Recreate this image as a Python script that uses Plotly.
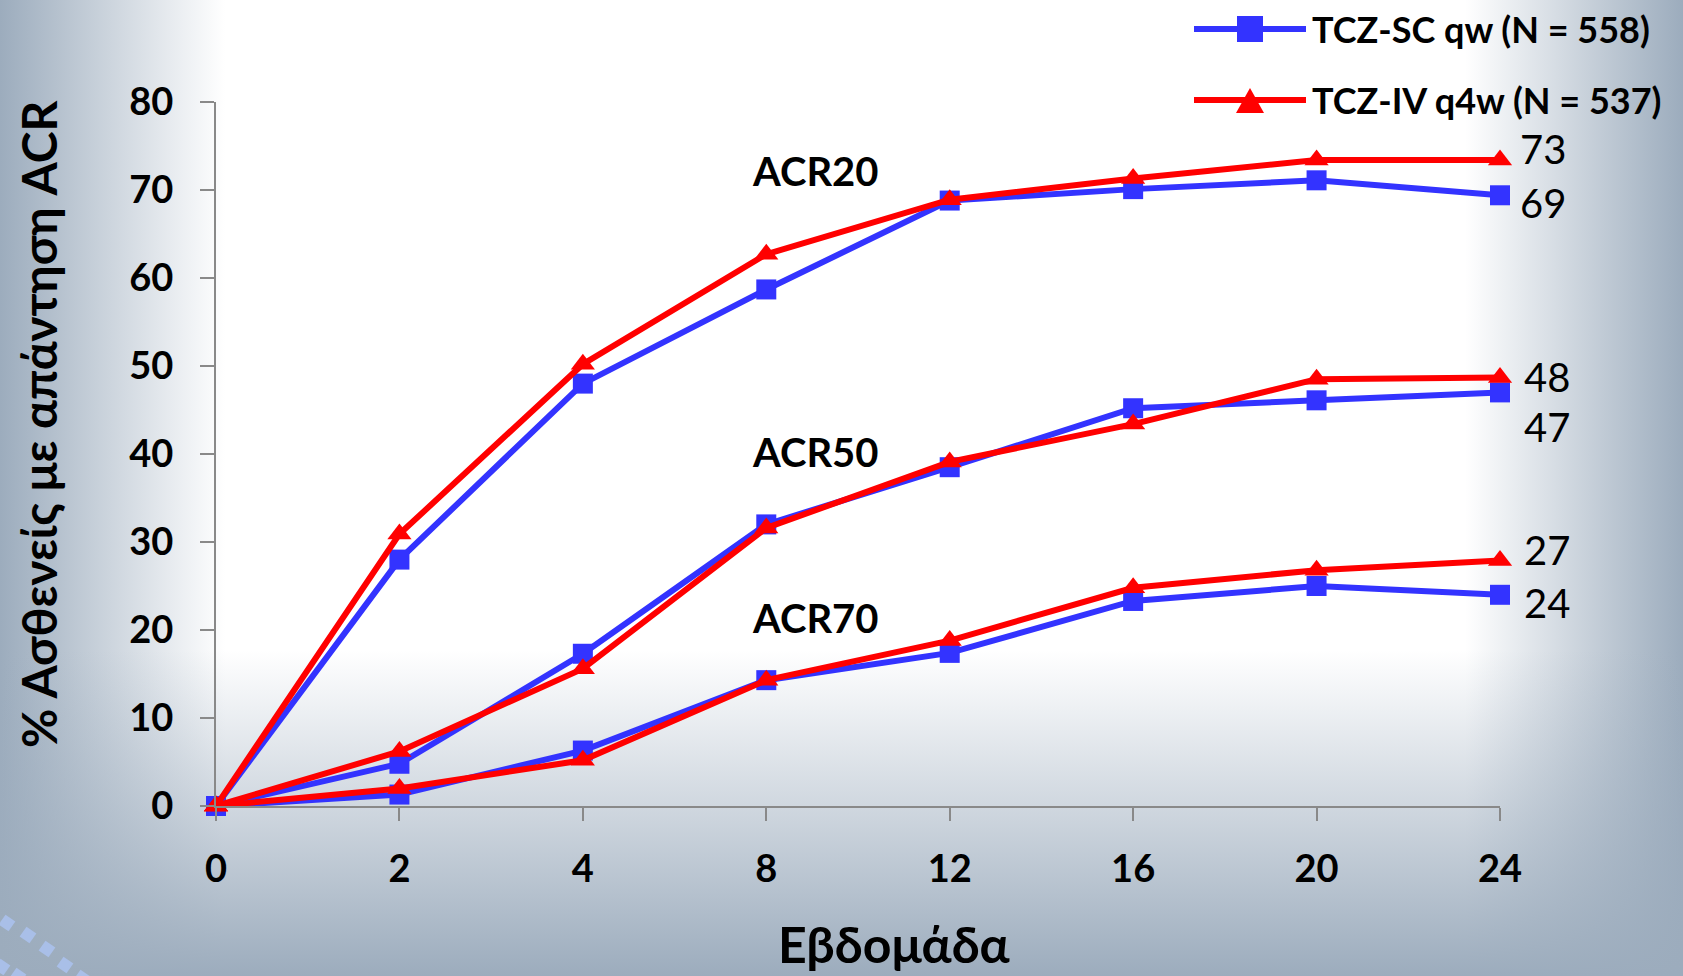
import base64
import plotly.graph_objects as go

# ---------------- data ----------------
weeks = ["0", "2", "4", "8", "12", "16", "20", "24"]
acr20_sc = [0, 28.0, 48.0, 58.7, 68.8, 70.1, 71.1, 69.4]
acr20_iv = [0, 30.9, 50.2, 62.7, 68.9, 71.3, 73.4, 73.4]
acr50_sc = [0, 4.8, 17.3, 32.0, 38.5, 45.2, 46.1, 47.0]
acr50_iv = [0, 6.2, 15.6, 31.6, 39.1, 43.4, 48.5, 48.7]
acr70_sc = [0, 1.3, 6.3, 14.3, 17.4, 23.3, 25.0, 24.0]
acr70_iv = [0, 2.0, 5.2, 14.3, 18.8, 24.8, 26.8, 27.9]
end_labels_sc = ["69", "47", "24"]
end_labels_iv = ["73", "48", "27"]
group_names = ["ACR20", "ACR50", "ACR70"]
series_names = ["TCZ-SC qw (N = 558)", "TCZ-IV q4w (N = 537)"]
y_ticks = [0, 10, 20, 30, 40, 50, 60, 70, 80]

# ---------------- geometry ----------------
W, H = 1683, 976
L, R, T, B = 216, 1500, 102, 806  # plot area in px
PW, PH = R - L, B - T

def px(x):
    return (x - L) / PW

def py(y):
    return (B - y) / PH

BLUE = "#3333ff"
RED = "#ff0000"
FONT = "Lato"

# ---------------- background (svg gradient) ----------------
edge = "#9cacbd"
diamonds = ""
for (cx, cy) in [(7, 923), (28, 935), (47, 949), (65, 965), (82, 978), (2, 967), (18, 976)]:
    diamonds += (f'<rect x="{cx-6}" y="{cy-6}" width="12" height="12" fill="#a9bfe8" '
                 f'transform="rotate(35 {cx} {cy})"/>')
svg = f'''<svg xmlns="http://www.w3.org/2000/svg" width="{W}" height="{H}" viewBox="0 0 {W} {H}" preserveAspectRatio="none">
<defs>
<linearGradient id="gl" x1="0" y1="0" x2="1" y2="0">
<stop offset="0" stop-color="{edge}" stop-opacity="1"/><stop offset="1" stop-color="{edge}" stop-opacity="0"/></linearGradient>
<linearGradient id="gr" x1="1" y1="0" x2="0" y2="0">
<stop offset="0" stop-color="{edge}" stop-opacity="1"/><stop offset="1" stop-color="{edge}" stop-opacity="0"/></linearGradient>
<linearGradient id="gb" x1="0" y1="1" x2="0" y2="0">
<stop offset="0" stop-color="{edge}" stop-opacity="1"/><stop offset="1" stop-color="{edge}" stop-opacity="0"/></linearGradient>
</defs>
<rect x="0" y="0" width="{W}" height="{H}" fill="#ffffff"/>
<rect x="0" y="0" width="225" height="{H}" fill="url(#gl)"/>
<rect x="1465" y="0" width="{W-1465}" height="{H}" fill="url(#gr)"/>
<rect x="0" y="650" width="{W}" height="{H-650}" fill="url(#gb)"/>
{diamonds}
</svg>'''
bg_uri = "data:image/svg+xml;base64," + base64.b64encode(svg.encode()).decode()

fig = go.Figure()

sc_sets = [acr20_sc, acr50_sc, acr70_sc]
iv_sets = [acr20_iv, acr50_iv, acr70_iv]

for vals in sc_sets:
    fig.add_trace(go.Scatter(
        x=weeks, y=vals, mode="lines+markers", cliponaxis=False,
        line=dict(color=BLUE, width=6),
        marker=dict(symbol="square", size=20, color=BLUE),
        showlegend=False, hoverinfo="skip"))
for vals in iv_sets:
    fig.add_trace(go.Scatter(
        x=weeks, y=vals, mode="lines+markers", cliponaxis=False,
        line=dict(color=RED, width=6),
        marker=dict(symbol="triangle-up", size=21, color=RED),
        showlegend=False, hoverinfo="skip"))

annotations = []
# group labels
for name, yv in zip(group_names, [72.2, 40.2, 21.4]):
    annotations.append(dict(x=3.27, y=yv, xref="x", yref="y", text=f"<b>{name}</b>",
                            showarrow=False, font=dict(family=FONT, size=40, color="black"),
                            xanchor="center", yanchor="middle"))
# end labels
iv_shift = [11, 0, 10]
sc_shift = [-8, -35, -8]
for lab, vals, ys in zip(end_labels_iv, iv_sets, iv_shift):
    annotations.append(dict(x=7, y=vals[-1], xref="x", yref="y", text=lab, showarrow=False,
                            xanchor="left", yanchor="middle", xshift=18 if lab == "73" else 22, yshift=ys,
                            font=dict(family=FONT, size=40, color="black")))
for lab, vals, ys in zip(end_labels_sc, sc_sets, sc_shift):
    annotations.append(dict(x=7, y=vals[-1], xref="x", yref="y", text=lab, showarrow=False,
                            xanchor="left", yanchor="middle", xshift=18 if lab == "69" else 22, yshift=ys,
                            font=dict(family=FONT, size=40, color="black")))
# axis titles
annotations.append(dict(x=px(38), y=py(424), xref="paper", yref="paper",
                        text="<b>% Ασθενείς με απάντηση ACR</b>", textangle=-90, showarrow=False,
                        font=dict(family=FONT, size=48, color="black"),
                        xanchor="center", yanchor="middle"))
annotations.append(dict(x=px(894), y=py(976), xref="paper", yref="paper",
                        text="<b>Εβδομάδα</b>", showarrow=False,
                        font=dict(family=FONT, size=50, color="black"),
                        xanchor="center", yanchor="bottom"))

# legend (manual)
shapes = []
leg_rows = [(29, BLUE, "square", series_names[0]), (100, RED, "triangle", series_names[1])]
for yy, col, sym, name in leg_rows:
    shapes.append(dict(type="line", xref="paper", yref="paper", x0=px(1194), x1=px(1306),
                       y0=py(yy), y1=py(yy), line=dict(color=col, width=6)))
    if sym == "square":
        shapes.append(dict(type="rect", xref="paper", yref="paper", x0=px(1237), x1=px(1263),
                           y0=py(yy - 13), y1=py(yy + 13), fillcolor=col, line=dict(width=0)))
    else:
        path = (f"M{px(1236)},{py(yy + 13)} L{px(1264)},{py(yy + 13)} "
                f"L{px(1250)},{py(yy - 12)} Z")
        shapes.append(dict(type="path", xref="paper", yref="paper", path=path,
                           fillcolor=col, line=dict(width=0)))
    annotations.append(dict(x=px(1310), y=py(yy), xref="paper", yref="paper",
                            text=f"<b>{name}</b>", showarrow=False, xanchor="left", yanchor="middle",
                            font=dict(family=FONT, size=36, color="black")))

fig.update_layout(
    width=W, height=H,
    margin=dict(l=L, r=W - R, t=T, b=H - B, pad=0),
    paper_bgcolor="white", plot_bgcolor="rgba(0,0,0,0)",
    showlegend=False,
    images=[dict(source=bg_uri, xref="paper", yref="paper", x=px(0), y=py(0),
                 sizex=W / PW, sizey=H / PH, sizing="stretch", layer="below",
                 xanchor="left", yanchor="top")],
    annotations=annotations, shapes=shapes,
    xaxis=dict(type="category", categoryorder="array", categoryarray=weeks,
               range=[0, 7], showgrid=False, zeroline=False,
               showline=True, linecolor="#898989", linewidth=2,
               ticks="outside", ticklen=13, tickwidth=1.5, tickcolor="#898989",
               ticklabelstandoff=15,
               tickfont=dict(family=FONT, size=38, color="black", weight="bold")),
    yaxis=dict(range=[0, 80], tickvals=y_ticks, showgrid=False, zeroline=False,
               showline=True, linecolor="#898989", linewidth=2,
               ticks="outside", ticklen=14, tickwidth=1.5, tickcolor="#898989",
               ticklabelstandoff=19,
               tickfont=dict(family=FONT, size=38, color="black", weight="bold")),
)

fig.write_html("out.html")
